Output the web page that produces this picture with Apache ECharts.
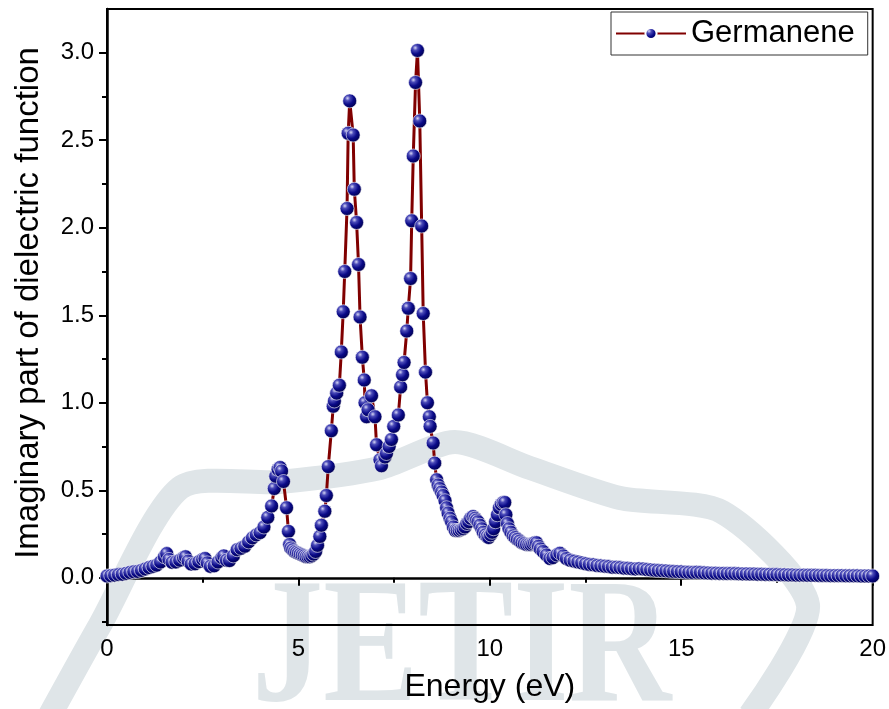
<!DOCTYPE html>
<html>
<head>
<meta charset="utf-8">
<title>Germanene dielectric function</title>
<script src="https://cdn.jsdelivr.net/npm/echarts@6/dist/echarts.min.js"></script>
<style>
  html, body { margin: 0; padding: 0; background: #fff; }
  #chart { width: 889px; height: 709px; }
</style>
</head>
<body>
<div id="chart"></div>
<script>
// photon energy (eV)
const energy = [
  0.00, 0.10, 0.20, 0.30, 0.40, 0.50, 0.60, 0.70, 0.80, 0.90,
  1.00, 1.10, 1.20, 1.30, 1.40, 1.50, 1.56, 1.62, 1.70, 1.80,
  1.90, 2.00, 2.05, 2.12, 2.20, 2.30, 2.40, 2.50, 2.56, 2.62,
  2.70, 2.80, 2.90, 3.00, 3.05, 3.12, 3.20, 3.30, 3.40, 3.50,
  3.60, 3.70, 3.80, 3.90, 4.00, 4.10, 4.20, 4.30, 4.37, 4.41,
  4.47, 4.52, 4.56, 4.61, 4.69, 4.74, 4.77, 4.80, 4.85, 4.90,
  4.95, 5.00, 5.05, 5.10, 5.15, 5.20, 5.25, 5.30, 5.35, 5.40,
  5.45, 5.50, 5.56, 5.60, 5.69, 5.73, 5.78, 5.86, 5.91, 5.94,
  6.00, 6.07, 6.12, 6.17, 6.21, 6.27, 6.30, 6.34, 6.43, 6.46,
  6.52, 6.57, 6.61, 6.67, 6.72, 6.74, 6.78, 6.82, 6.91, 7.00,
  7.04, 7.13, 7.17, 7.26, 7.30, 7.37, 7.43, 7.49, 7.61, 7.67,
  7.72, 7.76, 7.83, 7.87, 7.93, 7.96, 8.00, 8.06, 8.11, 8.17,
  8.22, 8.26, 8.32, 8.37, 8.42, 8.44, 8.52, 8.56, 8.61, 8.65,
  8.69, 8.74, 8.78, 8.83, 8.87, 8.91, 8.96, 9.00, 9.05, 9.10,
  9.15, 9.20, 9.25, 9.30, 9.35, 9.40, 9.45, 9.50, 9.56, 9.61,
  9.65, 9.69, 9.74, 9.79, 9.83, 9.88, 9.93, 9.97, 10.02, 10.06,
  10.10, 10.15, 10.20, 10.25, 10.30, 10.35, 10.39, 10.42, 10.46, 10.50,
  10.55, 10.61, 10.66, 10.72, 10.78, 10.84, 10.90, 10.96, 11.02, 11.07,
  11.12, 11.17, 11.22, 11.27, 11.32, 11.39, 11.48, 11.57, 11.65, 11.75,
  11.83, 11.92, 12.00, 12.10, 12.20, 12.30, 12.40, 12.50, 12.60, 12.70,
  12.80, 12.90, 13.00, 13.10, 13.20, 13.30, 13.40, 13.50, 13.60, 13.70,
  13.80, 13.90, 14.00, 14.10, 14.20, 14.30, 14.40, 14.50, 14.60, 14.70,
  14.80, 14.90, 15.00, 15.10, 15.20, 15.30, 15.40, 15.50, 15.60, 15.70,
  15.80, 15.90, 16.00, 16.10, 16.20, 16.30, 16.40, 16.50, 16.60, 16.70,
  16.80, 16.90, 17.00, 17.10, 17.20, 17.30, 17.40, 17.50, 17.60, 17.70,
  17.80, 17.90, 18.00, 18.10, 18.20, 18.30, 18.40, 18.50, 18.60, 18.70,
  18.80, 18.90, 19.00, 19.10, 19.20, 19.30, 19.40, 19.50, 19.60, 19.70,
  19.80, 19.90, 20.00
]

// imaginary part of the dielectric function, same order as energy
const epsImag = [
  0.010, 0.012, 0.015, 0.018, 0.020, 0.025, 0.030, 0.034, 0.036, 0.042,
  0.050, 0.058, 0.065, 0.072, 0.090, 0.120, 0.138, 0.105, 0.088, 0.090,
  0.100, 0.115, 0.120, 0.095, 0.078, 0.080, 0.092, 0.105, 0.110, 0.085,
  0.065, 0.068, 0.090, 0.115, 0.125, 0.100, 0.098, 0.125, 0.160, 0.168,
  0.180, 0.205, 0.228, 0.245, 0.258, 0.290, 0.345, 0.410, 0.510, 0.580,
  0.620, 0.630, 0.610, 0.550, 0.400, 0.265, 0.190, 0.170, 0.160, 0.150,
  0.145, 0.140, 0.135, 0.130, 0.125, 0.120, 0.120, 0.120, 0.125, 0.135,
  0.150, 0.185, 0.236, 0.300, 0.380, 0.470, 0.635, 0.840, 0.980, 1.010,
  1.055, 1.100, 1.290, 1.520, 1.750, 2.110, 2.540, 2.725, 2.530, 2.220,
  2.030, 1.790, 1.490, 1.260, 1.130, 1.000, 0.920, 0.960, 1.040, 0.920,
  0.760, 0.674, 0.640, 0.690, 0.710, 0.750, 0.790, 0.865, 0.930, 1.090,
  1.160, 1.230, 1.410, 1.540, 1.710, 2.040, 2.410, 2.830, 3.013, 2.610,
  2.010, 1.510, 1.175, 1.000, 0.920, 0.865, 0.770, 0.655, 0.560, 0.530,
  0.510, 0.490, 0.470, 0.440, 0.400, 0.370, 0.340, 0.320, 0.290, 0.270,
  0.270, 0.270, 0.275, 0.280, 0.290, 0.310, 0.320, 0.340, 0.350, 0.340,
  0.330, 0.320, 0.300, 0.280, 0.260, 0.245, 0.235, 0.230, 0.245, 0.260,
  0.280, 0.320, 0.360, 0.400, 0.420, 0.430, 0.430, 0.360, 0.310, 0.280,
  0.260, 0.240, 0.230, 0.220, 0.210, 0.200, 0.195, 0.190, 0.190, 0.190,
  0.195, 0.200, 0.200, 0.180, 0.165, 0.150, 0.130, 0.110, 0.115, 0.130,
  0.140, 0.125, 0.110, 0.100, 0.095, 0.090, 0.085, 0.080, 0.076, 0.074,
  0.070, 0.068, 0.066, 0.064, 0.060, 0.060, 0.058, 0.055, 0.054, 0.052,
  0.050, 0.052, 0.050, 0.047, 0.045, 0.043, 0.041, 0.040, 0.039, 0.037,
  0.036, 0.035, 0.034, 0.032, 0.031, 0.030, 0.031, 0.030, 0.028, 0.027,
  0.026, 0.026, 0.025, 0.025, 0.024, 0.025, 0.024, 0.023, 0.022, 0.022,
  0.021, 0.021, 0.020, 0.020, 0.019, 0.019, 0.018, 0.018, 0.017, 0.017,
  0.016, 0.016, 0.015, 0.015, 0.015, 0.014, 0.014, 0.014, 0.013, 0.013,
  0.013, 0.012, 0.012, 0.012, 0.012, 0.011, 0.011, 0.011, 0.011, 0.010,
  0.010, 0.010, 0.010
]

// tick positions on the y axis
const yLabelTicks = [0, 0.5, 1.0, 1.5, 2.0, 2.5, 3.0]
const yMinorTicks = [-0.25, 0.25, 0.75, 1.25, 1.75, 2.25, 2.75]

const seriesName = 'Germanene'
const yTitle = 'Imaginary part of dielectric function'

const font = 'Liberation Sans, Arial, sans-serif'

// shiny ball look of the markers
const ballColor = new echarts.graphic.RadialGradient(0.35, 0.32, 0.7, [
  { offset: 0, color: '#d6d6f5' },
  { offset: 0.25, color: '#4a4ab8' },
  { offset: 0.6, color: '#0a0a88' },
  { offset: 1, color: '#000050' }
])

const points = energy.map((e, i) => [e, epsImag[i]])

const yCommon = {
  type: 'value',
  min: -0.27,
  max: 3.25,
  position: 'left',
  splitLine: { show: false }
}

const option = {
  animation: false,
  textStyle: { fontFamily: font, color: '#000' },
  graphic: [
    // faint journal watermark behind the plot
    {
      type: 'polyline',
      z: -10,
      silent: true,
      shape: {
        points: [[50, 715], [100, 625], [180, 488], [280, 482], [380, 468], [455, 442],
          [530, 468], [620, 498], [722, 512], [808, 605], [750, 715]],
        smooth: 0.25
      },
      style: { stroke: '#dfe5e8', lineWidth: 24, fill: null }
    },
    {
      type: 'text',
      z: -10,
      silent: true,
      x: 252,
      y: 565,
      scaleX: 0.8,
      style: {
        text: 'JETIR',
        font: 'bold 178px "Liberation Serif", serif',
        fill: '#dfe5e8'
      }
    },
    // y axis title, sits a bit above the middle of the axis
    {
      type: 'text',
      x: 29,
      y: 303,
      rotation: Math.PI / 2,
      style: {
        text: yTitle,
        font: '33px ' + font,
        fill: '#000',
        align: 'center',
        verticalAlign: 'middle'
      }
    }
  ],
  grid: {
    left: 107,
    right: 16,
    top: 9,
    bottom: 84,
    show: true,
    borderColor: '#000',
    borderWidth: 2,
    backgroundColor: 'transparent'
  },
  legend: {
    left: 611,
    top: 12,
    orient: 'vertical',
    itemWidth: 70,
    itemHeight: 14,
    padding: [6, 13, 6, 4],
    borderColor: '#333',
    borderWidth: 1,
    backgroundColor: '#fff',
    textStyle: { fontSize: 31, fontFamily: font, color: '#000' },
    data: [seriesName]
  },
  xAxis: {
    type: 'value',
    min: 0,
    max: 20,
    interval: 5,
    name: 'Energy (eV)',
    nameLocation: 'middle',
    nameGap: 46,
    nameTextStyle: { fontSize: 32, fontFamily: font, color: '#000' },
    axisLine: { lineStyle: { color: '#000', width: 2.5 } },
    axisTick: { length: 8, lineStyle: { color: '#000', width: 2 } },
    minorTick: { show: true, splitNumber: 2, length: 5, lineStyle: { color: '#000', width: 2 } },
    axisLabel: { fontSize: 24, color: '#000', margin: 12, fontFamily: font },
    splitLine: { show: false }
  },
  yAxis: [
    {
      ...yCommon,
      axisLine: { show: true, lineStyle: { color: '#000', width: 2.5 } },
      axisTick: { show: true, length: 8, customValues: yLabelTicks, lineStyle: { color: '#000', width: 2 } },
      axisLabel: {
        fontSize: 24,
        color: '#000',
        margin: 13,
        fontFamily: font,
        customValues: yLabelTicks,
        formatter: (v) => v.toFixed(1)
      }
    },
    {
      // minor ticks only
      ...yCommon,
      axisLine: { show: false },
      axisTick: { show: true, length: 5, customValues: yMinorTicks, lineStyle: { color: '#000', width: 2 } },
      axisLabel: { show: false }
    }
  ],
  series: [
    {
      name: seriesName,
      type: 'line',
      yAxisIndex: 0,
      data: points,
      symbol: 'circle',
      symbolSize: 14,
      showSymbol: true,
      lineStyle: { color: '#800000', width: 3 },
      itemStyle: { color: ballColor, borderColor: '#ffffff', borderWidth: 0.6 }
    }
  ]
}

const myChart = echarts.init(document.getElementById('chart'))
myChart.setOption(option)
window.addEventListener('resize', function () {
  myChart.resize()
})
</script>
</body>
</html>
